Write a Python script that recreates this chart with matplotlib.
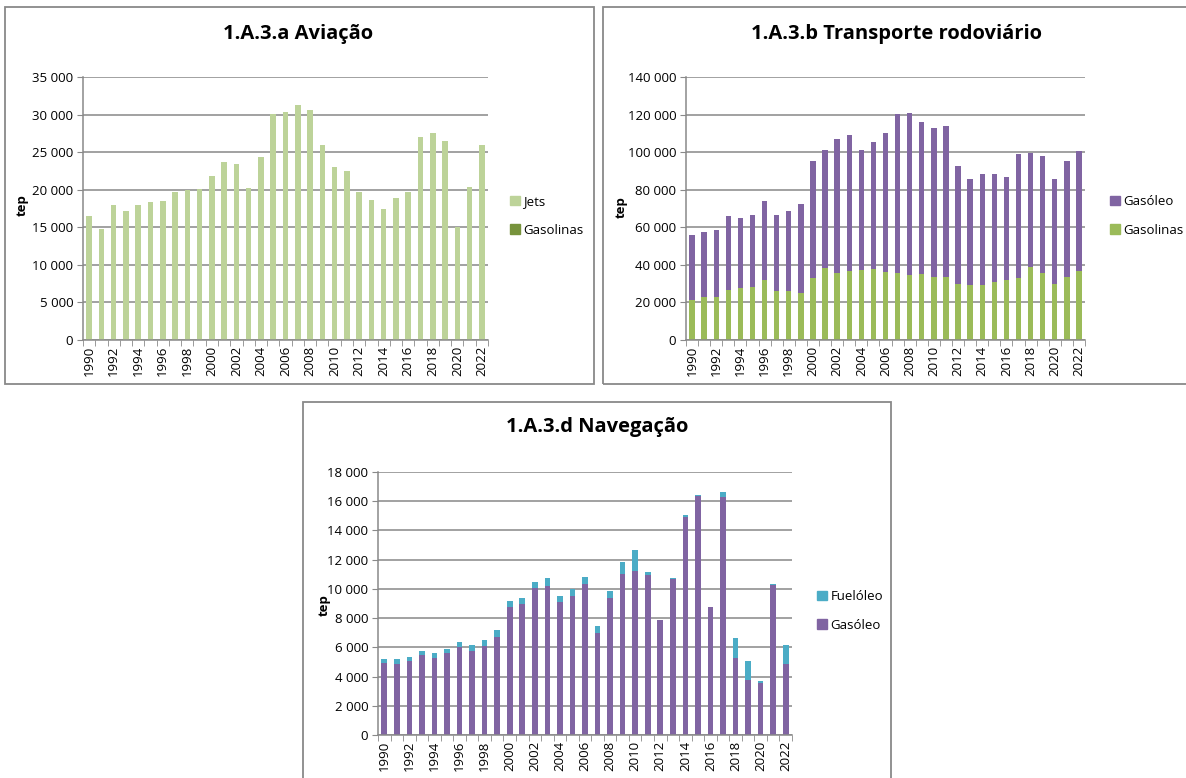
import matplotlib
matplotlib.use("Agg")
import matplotlib.pyplot as plt
from matplotlib.patches import Rectangle, Patch
from matplotlib.ticker import FuncFormatter, FixedLocator

plt.rcParams["font.family"] = ["Open Sans", "DejaVu Sans"]

years = list(range(1990, 2023))

# 1.A.3.a Aviação (tep)
aviacao_jets = [16500, 14750, 17950, 17150, 17850, 18350, 18450, 19600, 19950, 20000,
                21750, 23700, 23350, 20250, 24300, 30000, 30250, 31300, 30600, 25900,
                23000, 22500, 19700, 18600, 17400, 18850, 19700, 26950, 27500, 26400,
                15050, 20350, 25900]
aviacao_gasolinas = [60, 55, 55, 50, 50, 50, 45, 45, 45, 40,
                     40, 40, 35, 35, 35, 35, 30, 30, 30, 30,
                     30, 25, 25, 25, 25, 25, 25, 25, 25, 25,
                     20, 20, 20]

# 1.A.3.b Transporte rodoviário (tep)
rodov_gasolinas = [21300, 22700, 22700, 26800, 27600, 28000, 31700, 25900, 25900, 24800,
                   33000, 38300, 35400, 36700, 37000, 37700, 36200, 35800, 34600, 35300,
                   33500, 33500, 29800, 29200, 29200, 31000, 32100, 33100, 38800, 35600,
                   29800, 33500, 36900]
rodov_total = [56000, 57400, 58500, 65900, 65000, 66800, 73900, 66800, 68700, 72300,
               95300, 101400, 106900, 109200, 101400, 105400, 110000, 120100, 121000, 116100,
               113000, 113800, 92500, 85900, 88400, 88100, 86600, 98900, 99400, 97800,
               85800, 95300, 100500]
rodov_gasoleo = [t - g for t, g in zip(rodov_total, rodov_gasolinas)]

# 1.A.3.d Navegação (tep)
naveg_gasoleo = [4930, 4880, 5090, 5450, 5290, 5590, 6000, 5770, 6090, 6680,
                 8780, 8960, 10080, 10220, 9100, 9530, 10360, 6960, 9400, 11040,
                 11220, 10930, 7870, 10680, 14920, 16380, 8760, 16290, 5290, 3790,
                 3540, 10290, 4860]
naveg_total = [5200, 5200, 5340, 5750, 5610, 5890, 6340, 6140, 6520, 7210,
               9170, 9350, 10490, 10720, 9530, 9990, 10810, 7480, 9830, 11820,
               12660, 11130, 7880, 10720, 15030, 16420, 8770, 16630, 6660, 5060,
               3700, 10310, 6140]
naveg_fueloleo = [t - g for t, g in zip(naveg_total, naveg_gasoleo)]

W, H = 1186, 778
fig = plt.figure(figsize=(W / 100, H / 100), dpi=100)

FRAME = "#898989"
GRID = "#878787"
FS = 9.5


def frame(x0, y0, x1, y1):
    fig.patches.append(Rectangle((x0 / W, 1 - y1 / H), (x1 - x0) / W, (y1 - y0) / H,
                                 transform=fig.transFigure, fill=False,
                                 edgecolor=FRAME, linewidth=1.3))


def axes_px(x0, x1, ytop, ybot):
    return fig.add_axes([x0 / W, 1 - ybot / H, (x1 - x0) / W, (ybot - ytop) / H])


def thousands(v, _pos):
    return f"{int(round(v)):,}".replace(",", " ")


def style(ax, ymax, ystep):
    n = len(years)
    ax.set_xlim(-0.5, n - 0.5)
    ax.set_ylim(0, ymax)
    ax.set_yticks(range(0, ymax + 1, ystep))
    ax.yaxis.set_major_formatter(FuncFormatter(thousands))
    ax.yaxis.grid(True, color=GRID, linewidth=1.1)
    ax.set_axisbelow(True)
    for s in ("top", "right"):
        ax.spines[s].set_visible(False)
    for s in ("left", "bottom"):
        ax.spines[s].set_color(FRAME)
        ax.spines[s].set_linewidth(1.1)
    ax.tick_params(axis="y", length=4, color=FRAME, labelsize=FS, pad=3)
    # year labels every other category, tick marks between categories
    major = list(range(0, n, 2))
    ax.xaxis.set_major_locator(FixedLocator(major))
    ax.set_xticklabels([str(years[i]) for i in major], rotation=90)
    ax.xaxis.set_minor_locator(FixedLocator([i - 0.5 for i in range(n + 1)]))
    ax.tick_params(axis="x", which="major", length=0, labelsize=FS, pad=4)
    ax.tick_params(axis="x", which="minor", length=4, color=FRAME)
    ax.set_ylabel("tep", fontsize=FS, fontweight="bold", labelpad=2)


def legend(ax, handles, x, y):
    ax.legend(handles=handles, loc="center left",
              bbox_to_anchor=(x / W, 1 - y / H), bbox_transform=fig.transFigure,
              frameon=False, fontsize=FS, handlelength=0.7, handleheight=0.7,
              handletextpad=0.3, labelspacing=1.15, borderaxespad=0)


x = list(range(len(years)))
BW = 0.45

# --- 1.A.3.a Aviação
frame(5, 7, 594, 384)
ax1 = axes_px(83, 488, 77, 340)
c_jets, c_avgas = "#BDD399", "#77933C"
ax1.bar(x, aviacao_gasolinas, BW, color=c_avgas)
ax1.bar(x, aviacao_jets, BW, bottom=aviacao_gasolinas, color=c_jets)
style(ax1, 35000, 5000)
ax1.yaxis.set_label_coords(-0.135, 0.513)
fig.text(298 / W, 1 - 34 / H, "1.A.3.a Aviação", ha="center", va="center",
         fontsize=14.5, fontweight="bold")
legend(ax1, [Patch(color=c_jets, label="Jets"), Patch(color=c_avgas, label="Gasolinas")],
       505, 216)

# --- 1.A.3.b Transporte rodoviário
frame(603, 7, 1192, 384)
ax2 = axes_px(686, 1085, 77, 340)
c_gas, c_diesel = "#9BBB59", "#8064A2"
ax2.bar(x, rodov_gasolinas, BW, color=c_gas)
ax2.bar(x, rodov_gasoleo, BW, bottom=rodov_gasolinas, color=c_diesel)
style(ax2, 140000, 20000)
ax2.yaxis.set_label_coords(-0.145, 0.506)
fig.text(897 / W, 1 - 34 / H, "1.A.3.b Transporte rodoviário", ha="center", va="center",
         fontsize=14.5, fontweight="bold")
legend(ax2, [Patch(color=c_diesel, label="Gasóleo"), Patch(color=c_gas, label="Gasolinas")],
       1105, 216)

# --- 1.A.3.d Navegação
frame(303, 402, 891, 790)
ax3 = axes_px(378, 792, 472, 735)
c_fuel = "#4BACC6"
ax3.bar(x, naveg_gasoleo, BW, color=c_diesel)
ax3.bar(x, naveg_fueloleo, BW, bottom=naveg_gasoleo, color=c_fuel)
style(ax3, 18000, 2000)
ax3.yaxis.set_label_coords(-0.113, 0.494)
fig.text(597 / W, 1 - 427 / H, "1.A.3.d Navegação", ha="center", va="center",
         fontsize=14.5, fontweight="bold")
legend(ax3, [Patch(color=c_fuel, label="Fuelóleo"), Patch(color=c_diesel, label="Gasóleo")],
       812, 611)

fig.savefig("out.png", dpi=100, facecolor="white")
